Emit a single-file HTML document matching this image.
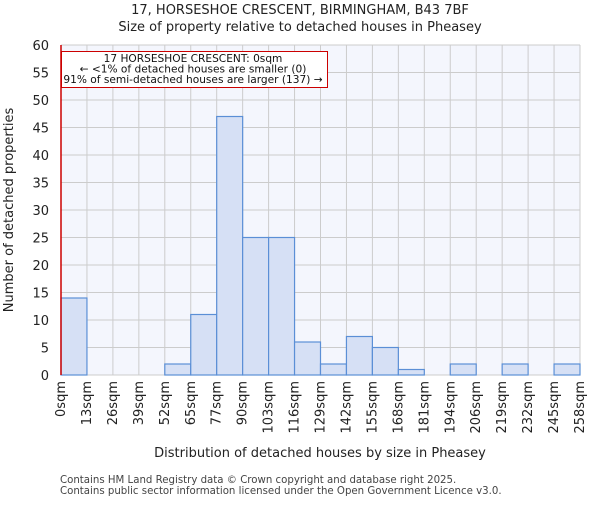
<!DOCTYPE html>
<html><head><meta charset="utf-8"><style>
body{margin:0;background:#fff;font-family:"Liberation Sans","DejaVu Sans",sans-serif;}
svg text{font-family:"DejaVu Sans","Liberation Sans",sans-serif;}
</style></head><body>
<svg id="chart" width="600" height="500" xmlns="http://www.w3.org/2000/svg">
<text x="300" y="14" text-anchor="middle" font-size="13" fill="#222">17, HORSESHOE CRESCENT, BIRMINGHAM, B43 7BF</text>
<text x="300" y="31" text-anchor="middle" font-size="13" fill="#222">Size of property relative to detached houses in Pheasey</text>
<g id="plot"></g>
<text transform="translate(13,210) rotate(-90)" text-anchor="middle" font-size="13" fill="#222">Number of detached properties</text>
<text x="320" y="457" text-anchor="middle" font-size="13" fill="#222">Distribution of detached houses by size in Pheasey</text>
<text x="60" y="483" font-size="10.2" fill="#444">Contains HM Land Registry data © Crown copyright and database right 2025.</text>
<text x="60" y="494" font-size="10.2" fill="#444">Contains public sector information licensed under the Open Government Licence v3.0.</text>
</svg>
<script>
const binLabels=["0sqm","13sqm","26sqm","39sqm","52sqm","65sqm","77sqm","90sqm","103sqm","116sqm","129sqm","142sqm","155sqm","168sqm","181sqm","194sqm","206sqm","219sqm","232sqm","245sqm","258sqm"];
const counts=[14,0,0,0,2,11,47,25,25,6,2,7,5,1,0,2,0,2,0,2];
const yTicks=[0,5,10,15,20,25,30,35,40,45,50,55,60];
const subjectBin=0;
const NS="http://www.w3.org/2000/svg";
const L=61,R=580,T=45,B=375,yMax=60;
const nb=counts.length;
const xs=i=>L+(R-L)*i/nb;
const ys=v=>B-(B-T)*v/yMax;
const g=document.getElementById('plot');
function mk(tag,attrs){const e=document.createElementNS(NS,tag);for(const k in attrs)e.setAttribute(k,attrs[k]);g.appendChild(e);return e;}
let bg=mk('rect',{x:L,y:T,width:R-L,height:B-T,fill:'#f4f6fd'});


yTicks.forEach(t=>{
  let ln=mk('line',{x1:L,x2:R,y1:ys(t),y2:ys(t),stroke:'#cccccc','stroke-width':1});
  
  
  let tx=mk('text',{x:L-12,y:ys(t)+5,'text-anchor':'end','font-size':13,fill:'#222'});
  tx.textContent=t;
  
  
});
binLabels.forEach((lab,i)=>{
  let ln=mk('line',{x1:xs(i),x2:xs(i),y1:T,y2:B,stroke:'#cccccc','stroke-width':1});
  
  
  let x=xs(i)+4;
  let tx=mk('text',{x:0,y:0,transform:`translate(${x},381) rotate(-90)`,'text-anchor':'end','font-size':13,fill:'#222'});
  tx.textContent=lab;
  
  
});
counts.forEach((c,i)=>{
  if(c<=0)return;
  let r=mk('rect',{x:xs(i),y:ys(c),width:xs(i+1)-xs(i),height:B-ys(c),fill:'#d6e0f5',stroke:'#5b8fd6','stroke-width':1.2});
  
  
});
let sl=mk('line',{x1:xs(subjectBin),x2:xs(subjectBin),y1:T,y2:B,stroke:'#cc0000','stroke-width':1.5});


let box=mk('rect',{x:61.5,y:51.5,width:266,height:36,fill:'#fff',stroke:'#cc0000','stroke-width':1});


["17 HORSESHOE CRESCENT: 0sqm","← <1% of detached houses are smaller (0)","91% of semi-detached houses are larger (137) →"].forEach((s,k)=>{
  let tx=mk('text',{x:193,y:62+k*10.5,'text-anchor':'middle','font-size':10.6,fill:'#111'});
  tx.textContent=s;
  
  
});
</script>
</body></html>
